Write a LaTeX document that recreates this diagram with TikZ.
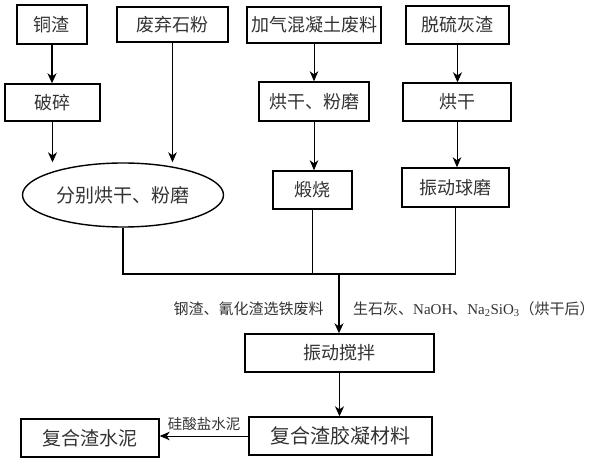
\documentclass[tikz,border=0pt]{standalone}
\usepackage{fontspec}
\setmainfont{Liberation Serif}
\newfontfamily\cjk{Noto Sans CJK SC}
\newfontfamily\latn{Liberation Serif}
\usetikzlibrary{arrows.meta,shapes.geometric}
\definecolor{txt}{HTML}{333333}
\begin{document}
\begin{tikzpicture}[x=1pt,y=-1pt,
  box/.style={draw=black, line width=1.4pt, inner sep=0pt, text=txt,
    font=\cjk\fontsize{18}{18}\selectfont},
  arr/.style={-{Stealth[length=10pt,width=9pt,inset=3pt]}, line width=1.4pt},
  tarr/.style={-{Stealth[length=10pt,width=8.5pt,inset=3pt]}, line width=0.9pt},
  lbl/.style={text=txt, inner sep=0pt, font=\cjk\fontsize{15}{15}\selectfont},
  conn/.style={line width=1.4pt}]
\useasboundingbox (0,0) rectangle (600,465);
\fill[white] (0,0) rectangle (600,465);
% top row
\node[box, minimum width=70pt, minimum height=39pt] (tz) at (52,24.5) {铜渣};
\node[box, minimum width=111pt, minimum height=35pt] (fq) at (172.5,24.5) {废弃石粉};
\node[box, minimum width=134pt, minimum height=36pt] (jq) at (314,25) {加气混凝土废料};
\node[box, minimum width=103pt, minimum height=38pt] (tl) at (457.5,25) {脱硫灰渣};
% second row
\node[box, minimum width=95pt, minimum height=37pt] (ps) at (52.5,102.5) {破碎};
\node[box, minimum width=110pt, minimum height=39pt] (hf) at (314,101.5) {烘干、粉磨};
\node[box, minimum width=108pt, minimum height=38pt] (hg) at (457,102) {烘干};
% third row
\node[box, ellipse, minimum width=201pt, minimum height=64pt, font=\cjk\fontsize{19}{19}\selectfont] (el) at (123,195) {分别烘干、粉磨};
\node[box, minimum width=79pt, minimum height=38pt] (ds) at (312.5,190) {煅烧};
\node[box, minimum width=107pt, minimum height=39pt] (qm) at (455.5,187.5) {振动球磨};
% bottom
\node[box, minimum width=189pt, minimum height=38pt] (jb) at (339.5,353) {振动搅拌};
\node[box, minimum width=183pt, minimum height=38pt, font=\cjk\fontsize{20}{20}\selectfont] (jn) at (340.5,436) {复合渣胶凝材料};
\node[box, minimum width=138pt, minimum height=38pt, font=\cjk\fontsize{19}{19}\selectfont] (sn) at (90,438) {复合渣水泥};
% labels
\node[lbl] (l1) at (248.5,309) {钢渣、氰化渣选铁废料};
\node[lbl, anchor=west] (l2) at (353,309) {生石灰、{\latn NaOH}、{\latn Na\textsubscript{2}SiO\textsubscript{3}}（烘干后）};
\node[lbl, font=\cjk\fontsize{14.5}{14.5}\selectfont] (l3) at (204,424) {硅酸盐水泥};
% arrows
\draw[arr] (tz.south) -- (tz.south |- ps.north);
\draw[arr] (ps.south) -- (ps.south |- el.north);
\draw[tarr] (fq.south) -- (fq.south |- el.north);
\draw[tarr] (jq.south) -- (jq.south |- hf.north);
\draw[tarr] (hf.south) -- (hf.south |- ds.north);
\draw[arr] (tl.south) -- (tl.south |- hg.north);
\draw[tarr] (hg.south) -- (hg.south |- qm.north);
% merge
\coordinate (j) at (339,274);
\draw[conn] (el.south) -- (el.south |- j) -- (qm.south |- j) -- (qm.south);
\draw[conn] (ds.south) -- (ds.south |- j);
\draw[arr] (j) -- (j |- jb.north);
\draw[arr] (jb.south) -- (jb.south |- jn.north);
\draw[tarr] (jn.west) -- (sn.east |- jn.west);
\end{tikzpicture}
\end{document}
